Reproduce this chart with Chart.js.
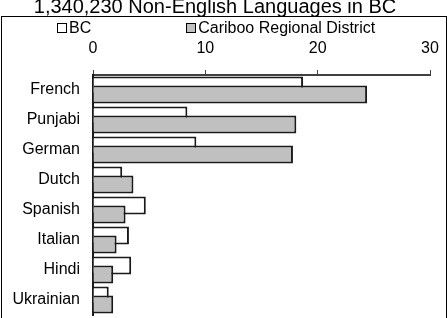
<!DOCTYPE html>
<html>
<head>
<meta charset="utf-8">
<script src="https://cdn.jsdelivr.net/npm/chart.js@4/dist/chart.umd.min.js"></script>
<style>
  html, body { margin: 0; padding: 0; background: #fff; overflow: hidden; }
  #wrap { position: relative; width: 448px; height: 318px; overflow: hidden; background: #fff; font-family: "Liberation Sans", Arial, sans-serif; }
  #frame { position: absolute; left: 1px; top: 16px; width: 444px; height: 400px; border: 1px solid #000; border-bottom: none; }
  #c { position: absolute; left: 0; top: -10px; }
  #legend { position: absolute; left: 57px; top: 19px; display: flex; gap: 95px; font-size: 16px; line-height: 18px; color: #000; }
  .item { display: flex; align-items: center; }
  .box { width: 8px; height: 8px; border: 1px solid #000; margin-right: 2px; }
</style>
</head>
<body>
<div id="wrap">
  <div id="frame"></div>
  <canvas id="c" width="448" height="330" style="width:448px;height:330px"></canvas>
  <div id="legend"></div>
</div>
<script>
const titleText = '1,340,230 Non-English Languages in BC';
const categories = ['French', 'Punjabi', 'German', 'Dutch', 'Spanish', 'Italian', 'Hindi', 'Ukrainian'];
const seriesNames = ['BC', 'Cariboo Regional District'];
const bcValues = [18.7, 8.4, 9.2, 2.6, 4.7, 3.2, 3.4, 1.4];
const caribooValues = [24.4, 18.1, 17.8, 3.6, 2.9, 2.1, 1.8, 1.8];
const xTicks = [0, 10, 20, 30];

const FONT = '"Liberation Sans", Arial, sans-serif';

// Draw the second series (Cariboo) after the first so it overlaps the BC bar.
const drawOrder = {
  id: 'drawOrder',
  beforeDatasetDraw(chart, args) {
    if (args.index === 1) return false;
  },
  afterDatasetsDraw(chart) {
    const meta = chart.getDatasetMeta(1);
    if (meta && !meta.hidden) meta.controller.draw();
  }
};

const chart = new Chart(document.getElementById('c'), {
  type: 'bar',
  data: {
    labels: categories,
    datasets: [
      { label: seriesNames[0], data: bcValues, backgroundColor: '#ffffff', borderColor: '#1a1a1a', borderWidth: 2 },
      { label: seriesNames[1], data: caribooValues, backgroundColor: '#c0c0c0', borderColor: '#1a1a1a', borderWidth: 2 }
    ]
  },
  options: {
    indexAxis: 'y',
    responsive: false,
    devicePixelRatio: 1,
    animation: false,
    events: [],
    categoryPercentage: 0.6,
    barPercentage: 2.0,
    layout: { padding: { left: 0, right: 18, top: 0, bottom: 5 } },
    plugins: {
      legend: { display: false },
      tooltip: { enabled: false },
      title: {
        display: true,
        text: titleText,
        color: '#000',
        font: { family: FONT, size: 20, weight: 'normal' },
        padding: { top: 5, bottom: 0 }
      }
    },
    scales: {
      x: {
        position: 'top',
        min: xTicks[0],
        max: xTicks[xTicks.length - 1],
        afterBuildTicks: s => { s.ticks = xTicks.map(v => ({ value: v })); },
        afterFit: s => { s.height = 56; s.paddingLeft = 0; s.paddingRight = 0; },
        ticks: { color: '#000', font: { family: FONT, size: 16 }, padding: 12, maxRotation: 0 },
        grid: { display: true, drawOnChartArea: false, drawTicks: true, tickLength: 5, color: '#404040', lineWidth: 1 },
        border: { display: true, color: '#404040', width: 2 }
      },
      y: {
        afterFit: s => { s.width = 93; s.paddingTop = 0; s.paddingBottom = 0; },
        ticks: { color: '#000', font: { family: FONT, size: 16 }, padding: 13 },
        grid: { display: false, drawTicks: false },
        border: { display: true, color: '#1a1a1a', width: 2 }
      }
    }
  },
  plugins: [drawOrder]
});

// Legend built from the chart's datasets
const legendEl = document.getElementById('legend');
chart.data.datasets.forEach(ds => {
  const item = document.createElement('div');
  item.className = 'item';
  const box = document.createElement('span');
  box.className = 'box';
  box.style.background = ds.backgroundColor;
  const txt = document.createElement('span');
  txt.textContent = ds.label;
  item.appendChild(box);
  item.appendChild(txt);
  legendEl.appendChild(item);
});
</script>
</body>
</html>
